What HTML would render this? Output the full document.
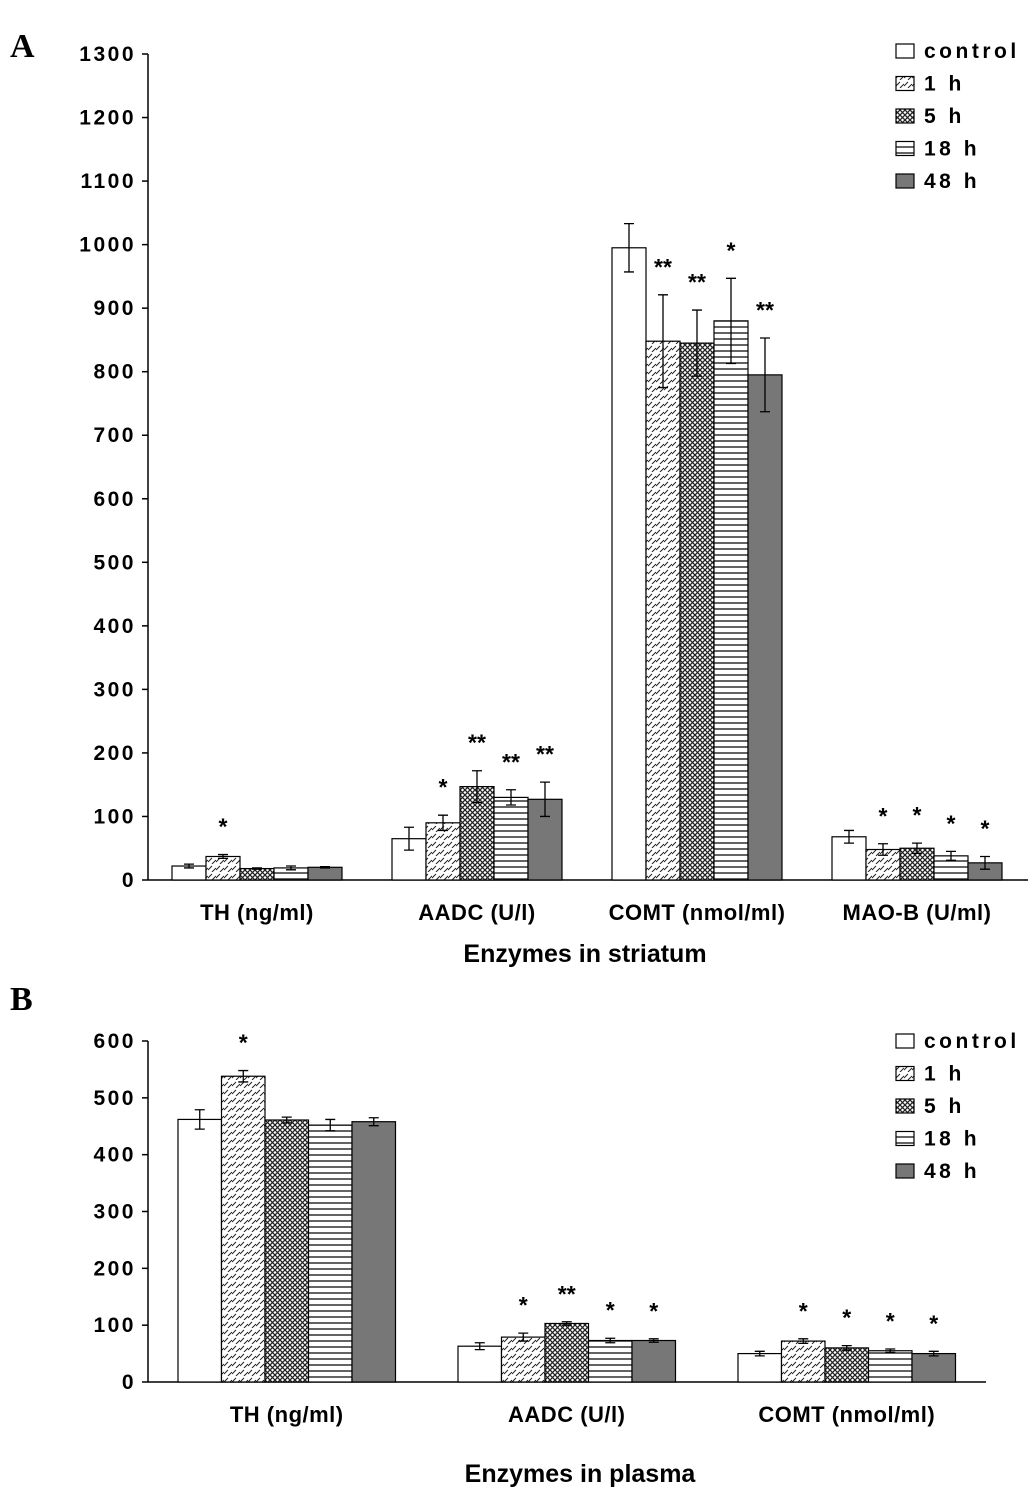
<!DOCTYPE html>
<html><head><meta charset="utf-8"><style>
body{margin:0;background:#fff}
svg{display:block;font-family:"Liberation Sans",Arial,sans-serif;font-weight:bold}
</style></head><body>
<svg id="c" width="1033" height="1496" viewBox="0 0 1033 1496">
<defs>
<pattern id="p1" width="8" height="8" patternUnits="userSpaceOnUse"><rect width="8" height="8" fill="#fff"/><path d="M0,6 L4,2 M4,8 L8,4" stroke="#222" stroke-width="1"/></pattern>
<pattern id="p5" width="5" height="5" patternUnits="userSpaceOnUse"><rect width="5" height="5" fill="#fff"/><path d="M0,0 L5,5 M5,0 L0,5" stroke="#222" stroke-width="1.3"/></pattern>
<pattern id="p18" width="6" height="6" patternUnits="userSpaceOnUse"><rect width="6" height="6" fill="#fff"/><path d="M0,3 L6,3" stroke="#222" stroke-width="1.4"/></pattern>
</defs>
<text x="10" y="57" font-family="Liberation Serif,serif" font-size="34">A</text>
<text x="10" y="1010" font-family="Liberation Serif,serif" font-size="34">B</text>
</svg>
<script>
const seriesNames=["control","1 h","5 h","18 h","48 h"];
const fills=["#fff","url(#p1)","url(#p5)","url(#p18)","#777"];
const catsA=["TH (ng/ml)","AADC (U/l)","COMT (nmol/ml)","MAO-B (U/ml)"];
const valsA=[[22,37,18,19,20],[65,90,147,130,127],[995,848,845,880,795],[68,48,50,38,27]];
const errA=[[3,3,1,3,1],[18,12,25,12,27],[38,73,52,67,58],[10,9,8,7,10]];
const starsA=[["","*","","",""],["","*","**","**","**"],["","**","**","*","**"],["","*","*","*","*"]];
const ticksA=[0,100,200,300,400,500,600,700,800,900,1000,1100,1200,1300];
const catsB=["TH (ng/ml)","AADC (U/l)","COMT (nmol/ml)"];
const valsB=[[462,538,461,452,458],[63,79,103,73,73],[50,72,60,55,50]];
const errB=[[17,10,5,10,7],[6,7,3,4,3],[4,4,4,3,4]];
const starsB=[["","*","","",""],["","*","**","*","*"],["","*","*","*","*"]];
const ticksB=[0,100,200,300,400,500,600];
const svg=document.getElementById('c');const NS="http://www.w3.org/2000/svg";
function el(t,a,txt){const e=document.createElementNS(NS,t);for(const k in a)e.setAttribute(k,a[k]);if(txt!=null)e.textContent=txt;svg.appendChild(e);return e;}
function panel(o){
 const y=v=>o.y0-(v/o.max)*(o.y0-o.y1);
 let e=el('line',{x1:o.ax,y1:o.y0,x2:o.ax,y2:o.y1,stroke:'#000','stroke-width':1.5});
 
 e=el('line',{x1:o.ax,y1:o.y0,x2:o.axEnd,y2:o.y0,stroke:'#000','stroke-width':1.5});
 
 o.ticks.forEach(t=>{el('line',{x1:o.ax-6,x2:o.ax,y1:y(t),y2:y(t),stroke:'#000','stroke-width':1.5});
  e=el('text',{x:o.ax-12,y:y(t)+7,'text-anchor':'end','font-size':21,'letter-spacing':'2.5'},t);
  });
 o.cats.forEach((c,i)=>{const gx=o.g0+i*o.gs;
  o.vals[i].forEach((v,j)=>{const x=gx+j*o.bw;
   e=el('rect',{x:x,y:y(v),width:o.bw,height:o.y0-y(v),fill:fills[j],stroke:'#000','stroke-width':1.2});
   
   const cx=x+o.bw/2,hi=y(v+o.err[i][j]),lo=y(v-o.err[i][j]);
   e=el('path',{d:`M${cx},${hi}V${lo}M${cx-5},${hi}H${cx+5}M${cx-5},${lo}H${cx+5}`,stroke:'#000','stroke-width':1.3,fill:'none'});
   
   if(o.stars[i][j]){e=el('text',{x:cx,y:hi-20,'text-anchor':'middle','font-size':23},o.stars[i][j]);
    }
  });
  e=el('text',{x:gx+2.5*o.bw,y:o.y0+o.catDy,'text-anchor':'middle','font-size':22,'letter-spacing':'0.5'},c);
  
 });
 e=el('text',{x:o.titleX,y:o.titleY,'text-anchor':'middle','font-size':25},o.title);
 
 seriesNames.forEach((n,j)=>{const ly=o.ly+j*32.5;
  e=el('rect',{x:896,y:ly-14,width:18,height:14,fill:fills[j],stroke:'#000','stroke-width':1.2});
  
  e=el('text',{x:924,y:ly,'font-size':21,'letter-spacing':'3.5'},n);
  });
}
panel({id:'striatum',ax:148,axEnd:1028,y0:880,y1:54,max:1300,ticks:ticksA,cats:catsA,vals:valsA,err:errA,stars:starsA,g0:172,gs:220,bw:34,catDy:40,title:"Enzymes in striatum",titleX:585,titleY:962,ly:58});
panel({id:'plasma',ax:148,axEnd:986,y0:1382,y1:1041,max:600,ticks:ticksB,cats:catsB,vals:valsB,err:errB,stars:starsB,g0:178,gs:280,bw:43.5,catDy:40,title:"Enzymes in plasma",titleX:580,titleY:1482,ly:1048});
</script>
</body></html>
